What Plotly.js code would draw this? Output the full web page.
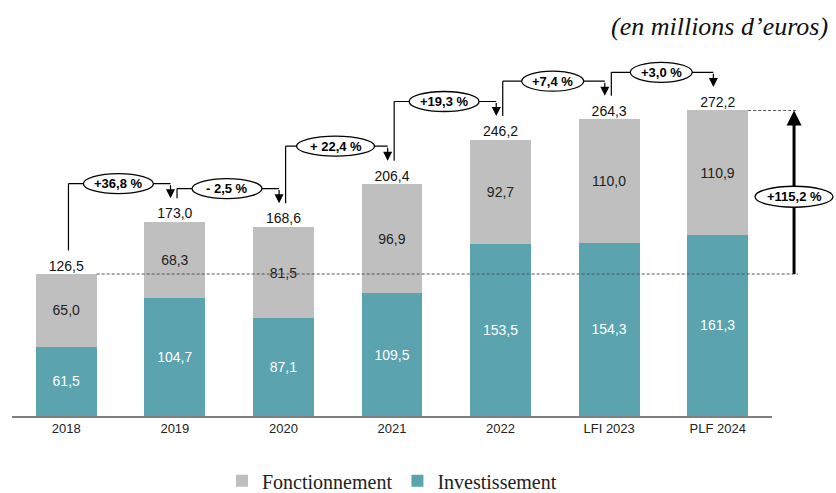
<!DOCTYPE html>
<html>
<head>
<meta charset="utf-8">
<script src="https://cdn.plot.ly/plotly-3.0.1.min.js"></script>
<style>html,body{margin:0;padding:0;background:#fff;}#chart{width:836px;height:493px;}</style>
</head>
<body>
<div id="chart"></div>
<script>
const categories = ['2018', '2019', '2020', '2021', '2022', 'LFI 2023', 'PLF 2024'];
const investissement = [61.5, 104.7, 87.1, 109.5, 153.5, 154.3, 161.3];
const fonctionnement = [65.0, 68.3, 81.5, 96.9, 92.7, 110.0, 110.9];
const totals = [126.5, 173.0, 168.6, 206.4, 246.2, 264.3, 272.2];
const growthLabels = ['+36,8 %', '- 2,5 %', '+ 22,4 %', '+19,3 %', '+7,4 %', '+3,0 %'];
const totalGrowthLabel = '+115,2 %';
const unitLabel = '(en millions d\u2019euros)';

const fmt = v => v.toFixed(1).replace('.', ',');
const idx = categories.map((c, i) => i);
const SANS = 'Liberation Sans, Arial, sans-serif';
const SERIF = 'Liberation Serif, Times New Roman, serif';
const TEAL = '#5ba3af';
const GREY = '#bfbfbf';

const traces = [
  {
    type: 'bar', name: 'Investissement', x: idx, y: investissement,
    marker: {color: TEAL},
    text: investissement.map(fmt), textposition: 'inside', insidetextanchor: 'middle',
    textfont: {family: SANS, size: 14, color: '#ffffff'}, constraintext: 'none',
    hoverinfo: 'skip'
  },
  {
    type: 'bar', name: 'Fonctionnement', x: idx, y: fonctionnement,
    marker: {color: GREY},
    text: fonctionnement.map(fmt), textposition: 'inside', insidetextanchor: 'middle',
    textfont: {family: SANS, size: 14, color: '#222222'}, constraintext: 'none',
    hoverinfo: 'skip'
  },
  {
    type: 'scatter', mode: 'text', x: idx, y: totals, text: totals.map(fmt),
    textposition: 'top center', textfont: {family: SANS, size: 14, color: '#111111'},
    showlegend: false, cliponaxis: false, hoverinfo: 'skip'
  }
];

const shapes = [];
const annotations = [];
const LINE = {color: '#000000', width: 1.2};

// growth connectors between consecutive years
for (let i = 0; i < totals.length - 1; i++) {
  const xs = i + 0.02;
  const ys = totals[i] + 21;
  const level = totals[i + 1] + 34;
  const xe = i + 1 - 0.04;
  const tip = totals[i + 1] + 21;
  const xc = i + 0.48;
  shapes.push({type: 'line', xref: 'x', yref: 'y', x0: xs, y0: ys, x1: xs, y1: level, line: LINE, layer: 'above'});
  shapes.push({type: 'line', xref: 'x', yref: 'y', x0: xs, y0: level, x1: xe, y1: level, line: LINE, layer: 'above'});
  const w = growthLabels[i].length * 8 + 14;
  shapes.push({type: 'circle', xref: 'x', yref: 'y', xsizemode: 'pixel', ysizemode: 'pixel',
    xanchor: xc, yanchor: level, x0: -w / 2, x1: w / 2, y0: -10, y1: 10,
    fillcolor: '#ffffff', line: {color: '#000000', width: 1.3}, layer: 'above'});
  annotations.push({xref: 'x', yref: 'y', x: xc, y: level, xanchor: 'center', yanchor: 'middle',
    text: '<b>' + growthLabels[i] + '</b>',
    showarrow: false, font: {family: SANS, size: 13, color: '#000000'}});
  annotations.push({xref: 'x', yref: 'y', x: xe, y: tip, axref: 'x', ayref: 'y', ax: xe, ay: level,
    text: '', showarrow: true, arrowhead: 2, arrowsize: 1.5, arrowwidth: 1.2, arrowcolor: '#000000', standoff: 0});
}

// dashed reference lines
const paperOf = v => (v + 0.5) / categories.length;
const last = categories.length - 1;
shapes.push({type: 'line', xref: 'paper', yref: 'y', x0: paperOf(0.28), x1: 1.034, y0: totals[0], y1: totals[0],
  line: {color: '#555555', width: 1, dash: '3px,2px'}, layer: 'above'});
shapes.push({type: 'line', xref: 'paper', yref: 'y', x0: paperOf(last + 0.28), x1: 1.034, y0: totals[last], y1: totals[last],
  line: {color: '#555555', width: 1, dash: '3px,2px'}, layer: 'above'});

// big overall arrow: shaft as shape, head as annotation
const bigX = 1.029;
shapes.push({type: 'line', xref: 'paper', yref: 'y', x0: bigX, x1: bigX, y0: totals[0], y1: totals[last] - 8,
  line: {color: '#000000', width: 3}, layer: 'above'});
annotations.push({xref: 'paper', yref: 'y', x: bigX, y: totals[last], axref: 'pixel', ayref: 'y', ax: 0, ay: totals[last] - 12,
  text: '', showarrow: true, arrowhead: 2, arrowsize: 1, arrowwidth: 3, arrowcolor: '#000000', standoff: 0});
const midY = (totals[0] + totals[last]) / 2 - 4;
shapes.push({type: 'circle', xref: 'paper', yref: 'y', xsizemode: 'pixel', ysizemode: 'pixel',
  xanchor: bigX, yanchor: midY, x0: -39, x1: 39, y0: -10.5, y1: 10.5,
  fillcolor: '#ffffff', line: {color: '#000000', width: 1.3}, layer: 'above'});
annotations.push({xref: 'paper', yref: 'y', x: bigX, y: midY, xanchor: 'center', yanchor: 'middle',
  text: '<b>' + totalGrowthLabel + '</b>',
  showarrow: false, font: {family: SANS, size: 13, color: '#000000'}});

// unit label
annotations.push({xref: 'paper', yref: 'paper', x: 1.076, y: 1.008, xanchor: 'right', yanchor: 'middle',
  text: '<i>' + unitLabel + '</i>', showarrow: false, font: {family: SERIF, size: 26, color: '#111111'}});

const layout = {
  width: 836, height: 493,
  margin: {l: 12, r: 64, t: 30, b: 77, autoexpand: false},
  paper_bgcolor: '#ffffff', plot_bgcolor: '#ffffff',
  barmode: 'stack', bargap: 0.44,
  xaxis: {
    range: [-0.5, categories.length - 0.5], tickvals: idx, ticktext: categories,
    showline: true, linecolor: '#7f7f7f', linewidth: 1.5, ticks: '', showgrid: false, zeroline: false,
    tickfont: {family: SANS, size: 13, color: '#222222'}, fixedrange: true, automargin: false
  },
  yaxis: {range: [0, 343.9], showgrid: false, zeroline: false, showticklabels: false, ticks: '', showline: false, fixedrange: true, automargin: false},
  showlegend: true,
  legend: {orientation: 'h', traceorder: 'reversed', x: 0.5, xanchor: 'center', y: -0.168, yanchor: 'middle',
    font: {family: SERIF, size: 20, color: '#222222'}, itemwidth: 30, borderwidth: 0},
  shapes: shapes,
  annotations: annotations
};

Plotly.newPlot('chart', traces, layout, {displayModeBar: false, staticPlot: true});
</script>
</body>
</html>
